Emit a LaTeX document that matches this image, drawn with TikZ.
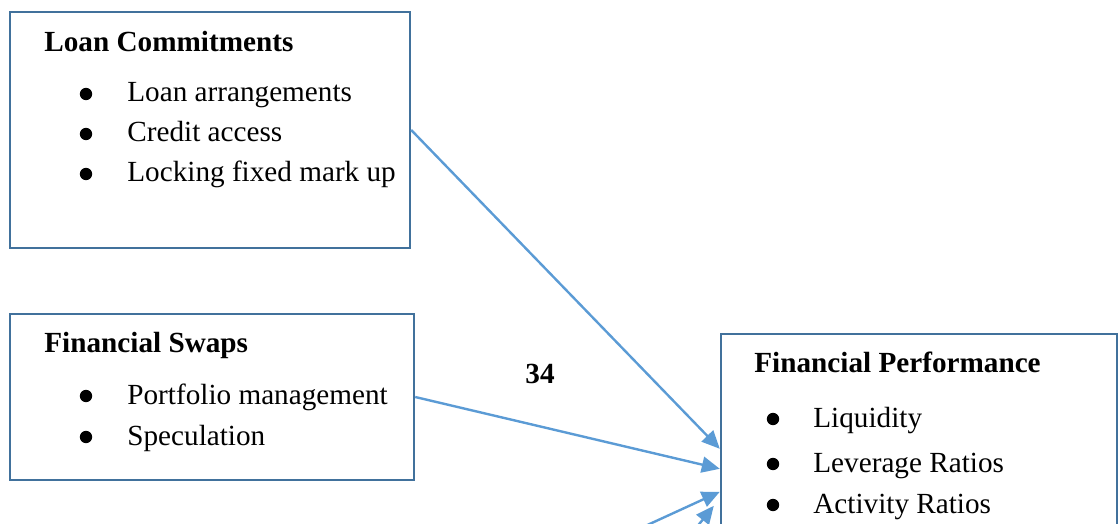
\documentclass[tikz,border=0pt]{standalone}
\usepackage{fontspec}
\setmainfont{Liberation Serif}
\usetikzlibrary{arrows.meta, calc}
\definecolor{boxblue}{RGB}{65,113,156}
\definecolor{arrowblue}{RGB}{91,155,213}
\tikzset{box/.style = {draw = boxblue, line width = 1.2pt, inner sep = 0}}
\tikzset{heading/.style = {anchor = base west, inner sep = 0, font = \fontsize{14.6}{17}\selectfont\bfseries}}
\tikzset{entry/.style = {anchor = base west, inner sep = 0, font = \fontsize{14.6}{17}\selectfont}}
\tikzset{dot/.style = {circle, fill = black, inner sep = 0, minimum size = 6.2pt}}
\tikzset{link/.style = {draw = arrowblue, line width = 1.2pt, -{Triangle[length = 9pt, width = 8pt]}}}

\begin{document}
\begin{tikzpicture}[x = 0.5pt, y = -0.5pt]
\clip (0,0) rectangle (1120,524);
% boxes
\node [box, minimum width = 200pt, minimum height = 118pt] (loan) at (210,130) {};
\node [box, minimum width = 202pt, minimum height = 83pt] (swaps) at (212,397) {};
\node [box, minimum width = 198pt, minimum height = 153pt] (perf) at (919,487) {};
% Loan Commitments
\node [heading] (loantitle) at (44,52) {Loan Commitments};
\node [dot] (loandota) at (86,94) {};
\node [entry] (loanitema) at (127,102) {Loan arrangements};
\node [dot] (loandotb) at (86,134) {};
\node [entry] (loanitemb) at (127,142) {Credit access};
\node [dot] (loandotc) at (86,174) {};
\node [entry] (loanitemc) at (127,182) {Locking fixed mark up};
% Financial Swaps
\node [heading] (swapstitle) at (44,352) {Financial Swaps};
\node [dot] (swapsdota) at (86,396) {};
\node [entry] (swapsitema) at (127,404) {Portfolio management};
\node [dot] (swapsdotb) at (86,437) {};
\node [entry] (swapsitemb) at (127,445) {Speculation};
% Financial Performance
\node [heading] (perftitle) at (754,372) {Financial Performance};
\node [dot] (perfdota) at (773,419) {};
\node [entry] (perfitema) at (813,427) {Liquidity};
\node [dot] (perfdotb) at (773,464) {};
\node [entry] (perfitemb) at (813,472) {Leverage Ratios};
\node [dot] (perfdotc) at (773,505) {};
\node [entry] (perfitemc) at (813,513) {Activity Ratios};
% page number
\node [heading] (pagenum) at (525,383) {34};
% arrows
\coordinate (lowa) at (582,555);
\coordinate (lowb) at (672,558);
\draw [link] (loan.east) -- ($(perf.north west)+(0,116)$);
\draw [link] (swaps.east) -- ($(perf.north west)+(0,136)$);
\draw [link] (lowa) -- ($(perf.north west)+(0,159)$);
\draw [link] (lowb) -- ($(perf.north west)+(-6,173)$);
\end{tikzpicture}
\end{document}
